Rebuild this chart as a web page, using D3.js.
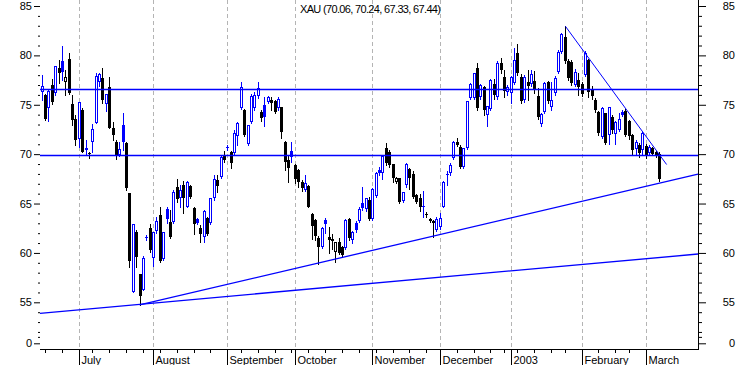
<!DOCTYPE html>
<html>
<head>
<meta charset="utf-8">
<script src="https://cdn.jsdelivr.net/npm/d3@7"></script>
<style>
  body { margin: 0; background: #fff; }
  svg { display: block; font-family: "Liberation Sans", Arial, sans-serif; }
</style>
</head>
<body>
<svg id="chart" width="738" height="365"></svg>
<script>
// XAU daily candles, 14 Jun 2002 .. 7 Mar 2003
const title = "XAU (70.06, 70.24, 67.33, 67.44)";
const firstDay = "2002-06-14";
const holidays = ["2002-07-04", "2002-09-02", "2002-11-28", "2002-12-25", "2003-01-01", "2003-01-20", "2003-02-17"];

const opens = [
  76.32, 76.0, 74.7, 77.05, 76.16, 78.7, 79.4, 77.33, 79.6, 75.05,
  73.6, 71.5, 74.47, 70.6, 70.1, 71.25, 73.2, 77.3, 77.74, 75.05,
  76.8, 72.68, 71.26, 69.92, 72.95, 71.1, 66.04, 56.0, 62.15, 57.85,
  56.25, 61.65, 62.5, 59.45, 62.25, 63.84, 59.36, 64.45, 63.16, 63.1,
  66.64, 65.52, 66.87, 64.68, 66.77, 64.58, 63.43, 62.55, 61.57, 63.5,
  63.0, 65.52, 67.38, 67.65, 69.91, 70.75, 70.18, 70.08, 71.83, 74.64,
  74.47, 71.03, 73.29, 74.64, 75.85, 74.3, 74.98, 75.31, 75.48, 75.41,
  74.64, 74.74, 71.2, 69.45, 70.32, 68.9, 68.4, 67.15, 66.37, 66.8,
  63.95, 63.3, 61.5, 60.55, 63.33, 61.64, 61.4, 60.13, 61.14, 60.63,
  60.46, 63.43, 61.31, 62.99, 63.23, 65.02, 64.45, 65.36, 63.4, 65.8,
  68.4, 68.06, 70.59, 70.2, 68.97, 67.21, 67.55, 65.29, 66.88, 68.5,
  68.0, 65.86, 65.53, 64.8, 63.9, 63.4, 63.25, 62.32, 62.66, 64.68,
  68.0, 68.06, 69.64, 71.26, 70.76, 68.73, 70.59, 75.72, 75.72, 78.69,
  75.8, 76.76, 73.96, 74.6, 77.1, 75.75, 79.2, 77.8, 76.3, 76.2,
  77.17, 80.2, 77.8, 75.5, 77.3, 77.1, 77.4, 75.9, 73.05, 74.3,
  77.34, 74.8, 76.16, 78.35, 80.35, 81.9, 79.4, 79.3, 77.05, 77.5,
  77.1, 78.0, 79.53, 76.6, 75.48, 74.3, 71.7, 74.13, 71.94, 73.73,
  72.04, 72.45, 74.3, 74.4, 73.4, 71.9, 70.49, 70.93, 70.42, 70.83,
  70.08, 70.59, 70.2, 70.06
];
const highs = [
  78.0, 76.1, 76.45, 77.6, 78.95, 79.5, 80.95, 78.5, 80.27, 76.0,
  74.0, 75.3, 74.7, 71.45, 70.2, 73.05, 78.25, 78.2, 78.7, 76.1,
  77.84, 73.25, 71.4, 71.26, 74.14, 71.26, 66.1, 62.95, 62.32, 57.9,
  59.69, 61.8, 62.9, 62.15, 63.6, 64.6, 62.1, 64.7, 64.3, 66.4,
  67.45, 66.87, 67.28, 67.3, 66.9, 64.68, 63.5, 62.83, 64.3, 63.6,
  65.6, 67.88, 67.88, 69.91, 70.3, 70.92, 70.3, 72.4, 73.29, 77.3,
  74.6, 73.0, 76.1, 76.3, 77.3, 74.5, 75.82, 75.9, 75.82, 75.5,
  75.8, 74.8, 71.3, 69.9, 71.2, 69.0, 68.5, 67.4, 67.9, 66.9,
  64.05, 63.4, 61.7, 62.6, 63.5, 62.66, 61.9, 61.14, 61.5, 60.7,
  63.4, 63.5, 62.2, 63.2, 64.6, 66.7, 65.6, 65.7, 66.6, 68.2,
  68.7, 69.9, 71.1, 70.4, 69.0, 67.7, 67.6, 66.2, 69.1, 68.6,
  68.3, 66.0, 65.93, 66.27, 64.1, 63.5, 63.3, 63.6, 64.0, 67.3,
  68.25, 69.1, 71.3, 71.6, 70.9, 70.6, 75.4, 77.2, 78.2, 79.2,
  77.1, 76.9, 74.9, 77.6, 77.6, 79.4, 79.7, 78.5, 77.0, 77.9,
  80.72, 81.15, 78.1, 78.0, 78.5, 78.5, 78.45, 76.7, 74.2, 77.3,
  77.45, 77.3, 77.9, 80.5, 82.3, 82.95, 79.6, 79.5, 78.6, 78.2,
  77.3, 80.4, 79.6, 76.9, 75.65, 74.4, 74.75, 74.2, 74.8, 74.0,
  73.4, 74.2, 74.5, 74.6, 73.5, 72.0, 71.4, 71.1, 72.2, 71.0,
  70.9, 70.7, 70.3, 70.24
];
const lows = [
  75.5, 73.5, 73.4, 75.1, 76.0, 77.2, 77.5, 76.0, 76.1, 72.95,
  70.93, 70.75, 70.2, 69.9, 69.6, 70.25, 73.2, 76.9, 75.14, 74.4,
  72.6, 71.45, 69.5, 69.85, 70.42, 66.4, 58.55, 56.0, 58.54, 54.73,
  56.2, 61.35, 60.1, 58.7, 62.0, 59.1, 59.3, 63.0, 61.5, 63.0,
  65.19, 64.68, 64.0, 64.6, 65.6, 61.88, 62.9, 61.14, 61.14, 61.8,
  62.9, 65.4, 66.2, 67.6, 69.17, 70.42, 68.56, 70.0, 70.92, 74.6,
  71.8, 70.9, 73.2, 74.5, 75.7, 73.4, 72.8, 75.2, 74.47, 74.2,
  74.5, 71.6, 68.4, 67.15, 69.2, 67.05, 66.7, 66.3, 66.3, 64.6,
  61.4, 61.3, 58.84, 60.5, 62.0, 60.0, 60.4, 59.1, 59.9, 59.6,
  60.4, 61.3, 61.0, 62.15, 63.1, 64.3, 64.2, 63.3, 63.3, 65.7,
  67.9, 67.5, 68.9, 68.7, 67.2, 67.1, 65.1, 65.2, 66.7, 66.5,
  65.6, 65.1, 64.25, 63.6, 63.6, 63.1, 61.65, 62.2, 62.4, 64.6,
  66.9, 67.9, 69.5, 70.85, 68.55, 68.6, 70.5, 75.6, 75.6, 74.5,
  75.6, 74.0, 72.85, 74.5, 75.6, 75.6, 78.2, 75.8, 76.0, 75.15,
  77.1, 78.0, 75.2, 75.3, 75.5, 76.9, 76.2, 73.6, 72.85, 74.2,
  75.15, 74.5, 76.0, 78.2, 80.2, 79.2, 77.5, 77.0, 76.9, 76.0,
  75.9, 77.9, 75.75, 75.6, 74.3, 71.94, 71.6, 71.0, 71.0, 72.1,
  71.03, 72.3, 73.9, 71.8, 71.5, 69.92, 69.92, 69.75, 69.92, 69.6,
  69.95, 69.9, 69.7, 67.33
];
const closes = [
  76.93, 73.6, 76.4, 75.3, 78.9, 78.2, 78.35, 77.84, 76.2, 73.45,
  71.45, 75.25, 70.25, 70.45, 70.0, 72.5, 77.9, 78.1, 75.48, 76.05,
  72.68, 71.9, 69.92, 70.56, 71.26, 66.6, 59.2, 62.9, 59.56, 55.67,
  59.45, 61.5, 60.3, 62.1, 63.2, 59.2, 62.08, 63.4, 61.64, 66.14,
  65.46, 66.37, 65.52, 67.21, 65.69, 62.89, 63.06, 61.9, 64.2, 61.95,
  65.52, 67.48, 66.8, 69.74, 69.4, 70.6, 69.07, 72.1, 73.12, 76.8,
  71.94, 72.95, 75.9, 76.0, 76.66, 73.65, 73.8, 75.82, 75.15, 74.3,
  75.55, 72.28, 69.24, 68.56, 69.75, 67.5, 67.15, 66.6, 67.05, 64.68,
  62.7, 61.7, 60.6, 62.5, 62.93, 61.3, 61.2, 61.14, 59.96, 59.79,
  63.33, 61.5, 62.15, 62.32, 64.45, 64.5, 65.53, 63.4, 66.47, 68.06,
  68.1, 69.85, 69.07, 68.9, 67.62, 67.55, 65.19, 66.13, 68.97, 67.55,
  65.7, 65.19, 64.6, 64.68, 63.85, 63.27, 63.0, 63.4, 63.5, 67.21,
  67.85, 68.9, 71.26, 70.93, 68.73, 70.59, 75.38, 77.07, 78.18, 74.64,
  77.0, 74.5, 74.87, 77.5, 75.95, 79.26, 78.52, 76.4, 76.8, 77.78,
  79.53, 78.18, 75.4, 77.8, 76.85, 78.15, 76.5, 73.73, 74.1, 77.2,
  75.4, 75.5, 77.68, 80.3, 82.2, 79.4, 77.7, 77.2, 78.35, 76.8,
  76.1, 80.27, 76.33, 75.85, 74.47, 72.11, 74.64, 71.1, 74.74, 72.45,
  73.29, 73.6, 74.0, 71.94, 71.8, 70.42, 71.26, 70.15, 72.11, 69.92,
  70.76, 70.02, 69.95, 67.44
];

// horizontal levels and trend lines (bar index, price)
const levels = [76.57, 69.91];
const trendLines = [
  { i1: -0.5, p1: 53.89, i2: 194.5, p2: 59.89, w: 1.3 },
  { i1: 29, p1: 54.73, i2: 194.5, p2: 67.99, w: 1.3 },
  { i1: 155.2, p1: 82.95, i2: 185.2, p2: 68.95, w: 1 }
];

// price axis ticks; the bottom "0" sits on a broken axis
const yTickValues = [50.85, 55, 60, 65, 70, 75, 80, 85];
const yTickLabels = ["0", "55", "60", "65", "70", "75", "80", "85"];
const yMinorTicks = [51.5].concat(d3.range(52, 85).filter(v => v % 5 !== 0));

const upColor = "#0000ff", downColor = "#000000";

const svg = d3.select("#chart");
const left = 40, right = 698, bottom = 349;

const x = d3.scaleLinear().domain([-0.5, 194.5]).range([left, right]);
const xr = x.copy().interpolate(d3.interpolateRound);
const y = d3.scaleLinear().domain([50.273, 85]).range([bottom, 6]);

// trading calendar
const parseDay = d3.timeParse("%Y-%m-%d");
const fmtDay = d3.timeFormat("%Y-%m-%d");
const dates = [];
for (let d = parseDay(firstDay); dates.length < closes.length; d = d3.timeDay.offset(d, 1)) {
  const wd = d.getDay();
  if (wd === 0 || wd === 6 || holidays.includes(fmtDay(d))) continue;
  dates.push(d);
}
const idx = d3.range(dates.length);
const monthIdx = idx.filter(i => i > 0 && dates[i].getMonth() !== dates[i - 1].getMonth());
const weekIdx = idx.filter(i => i > 0 && +d3.timeMonday.floor(dates[i]) !== +d3.timeMonday.floor(dates[i - 1]));
const monthName = d => d.getMonth() === 0 ? d3.timeFormat("%Y")(d) : d3.timeFormat("%B")(d);

// month grid
svg.append("g")
  .attr("shape-rendering", "crispEdges")
  .selectAll("line")
  .data(monthIdx)
  .join("line")
  .attr("x1", i => xr(i) + 0.5)
  .attr("x2", i => xr(i) + 0.5)
  .attr("y1", 0)
  .attr("y2", bottom)
  .attr("stroke", "#b4b4b4")
  .attr("stroke-dasharray", "4,3");

// left price axis
svg.append("g")
  .attr("transform", `translate(${left},0)`)
  .call(d3.axisLeft(y).tickValues(yTickValues).tickFormat((d, i) => yTickLabels[i]).tickSize(6).tickPadding(2))
  .call(g => g.select(".domain").remove());
svg.append("g")
  .attr("transform", `translate(${left},0)`)
  .call(d3.axisLeft(y).tickValues(yMinorTicks).tickFormat("").tickSize(2))
  .call(g => g.select(".domain").remove());

// right price axis
svg.append("g")
  .attr("transform", `translate(${right},0)`)
  .call(d3.axisRight(y).tickValues(yTickValues).tickFormat((d, i) => yTickLabels[i]).tickSize(8))
  .call(g => g.select(".domain").remove())
  .call(g => g.selectAll("text").attr("x", 37).attr("text-anchor", "end"));
svg.append("g")
  .attr("transform", `translate(${right},0)`)
  .call(d3.axisRight(y).tickValues(yMinorTicks).tickFormat("").tickSize(4))
  .call(g => g.select(".domain").remove());

svg.append("line")
  .attr("x1", right + 0.5).attr("x2", right + 0.5)
  .attr("y1", 0).attr("y2", bottom + 1)
  .attr("stroke", "#000");

// time axis
svg.append("g")
  .attr("transform", `translate(0,${bottom})`)
  .call(d3.axisBottom(xr).tickValues(weekIdx).tickFormat("").tickSize(4))
  .call(g => g.select(".domain").remove());
svg.append("g")
  .attr("transform", `translate(0,${bottom})`)
  .call(d3.axisBottom(xr).tickValues(monthIdx).tickFormat(i => monthName(dates[i])).tickSize(16))
  .call(g => g.select(".domain").remove())
  .call(g => g.selectAll("text").attr("text-anchor", "start").attr("x", 2).attr("y", 7));
svg.append("line")
  .attr("x1", left).attr("x2", right + 1)
  .attr("y1", bottom + 0.5).attr("y2", bottom + 0.5)
  .attr("stroke", "#000");

svg.selectAll(".tick text").attr("font-size", 11).attr("font-family", "'Liberation Sans', Arial, sans-serif").attr("fill", "#000");

// candles
const bars = idx.map(i => ({
  i, o: opens[i], h: highs[i], l: lows[i], c: closes[i],
  prev: i ? closes[i - 1] : opens[i]
}));
const colorOf = d => d.c >= d.prev ? upColor : downColor;

const candle = svg.append("g")
  .attr("shape-rendering", "crispEdges")
  .selectAll("g")
  .data(bars)
  .join("g");

candle.append("line")
  .attr("x1", d => xr(d.i) + 0.5)
  .attr("x2", d => xr(d.i) + 0.5)
  .attr("y1", d => Math.round(y(d.h)))
  .attr("y2", d => Math.round(y(d.l)) + 1)
  .attr("stroke", colorOf);

candle.each(function (d) {
  const g = d3.select(this);
  const top = Math.round(y(Math.max(d.o, d.c)));
  const bot = Math.round(y(Math.min(d.o, d.c)));
  const hollow = d.c > d.o && bot - top >= 2;
  if (hollow) {
    g.append("rect")
      .attr("x", xr(d.i) - 0.5)
      .attr("y", top + 0.5)
      .attr("width", 2)
      .attr("height", bot - top - 1)
      .attr("fill", "#fff")
      .attr("stroke", colorOf(d));
  } else {
    g.append("rect")
      .attr("x", xr(d.i) - 1)
      .attr("y", top)
      .attr("width", 3)
      .attr("height", Math.max(1, bot - top))
      .attr("fill", colorOf(d));
  }
});

// horizontal levels
svg.append("g")
  .selectAll("line")
  .data(levels)
  .join("line")
  .attr("x1", left)
  .attr("x2", right)
  .attr("y1", v => Math.round(y(v)) + 0.5)
  .attr("y2", v => Math.round(y(v)) + 0.5)
  .attr("stroke", upColor)
  .attr("stroke-width", 1.5);

// trend lines
svg.append("g")
  .selectAll("line")
  .data(trendLines)
  .join("line")
  .attr("x1", d => x(d.i1))
  .attr("y1", d => y(d.p1))
  .attr("x2", d => x(d.i2))
  .attr("y2", d => y(d.p2))
  .attr("stroke", upColor)
  .attr("stroke-width", d => d.w);

// title
svg.append("text")
  .attr("x", 300)
  .attr("y", 13)
  .attr("font-size", 11)
  .attr("textLength", 141)
  .attr("lengthAdjust", "spacing")
  .attr("fill", "#000")
  .text(title);
</script>
</body>
</html>
